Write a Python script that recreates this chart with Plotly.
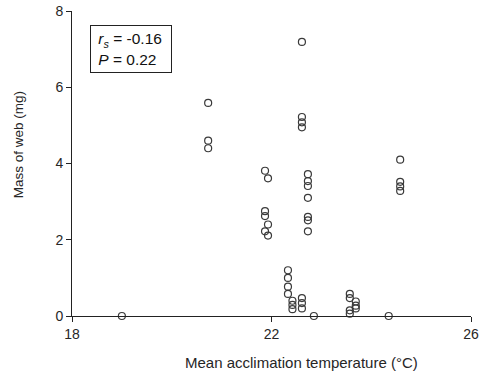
import plotly.graph_objects as go

# Data
temp = [19.0,
        20.73, 20.73, 20.73,
        21.87, 21.93, 21.87, 21.87, 21.93, 21.87, 21.93,
        22.61, 22.61, 22.61, 22.61,
        22.73, 22.73, 22.73, 22.73, 22.73, 22.73, 22.73,
        22.33, 22.33, 22.33, 22.33, 22.42, 22.42, 22.42,
        22.61, 22.61, 22.61,
        22.85,
        23.57, 23.57, 23.57, 23.57,
        23.69, 23.69, 23.69,
        24.35,
        24.58, 24.58, 24.58, 24.58]
mass = [0.0,
        5.59, 4.60, 4.40,
        3.81, 3.61, 2.75, 2.62, 2.40, 2.22, 2.11,
        7.19, 5.22, 5.08, 4.95,
        3.72, 3.54, 3.41, 3.10, 2.60, 2.51, 2.22,
        1.20, 1.00, 0.77, 0.58, 0.40, 0.29, 0.18,
        0.47, 0.34, 0.20,
        0.0,
        0.58, 0.47, 0.15, 0.06,
        0.38, 0.27, 0.20,
        0.0,
        4.10, 3.52, 3.40, 3.28]

x_ticks = [18, 22, 26]
y_ticks = [0, 2, 4, 6, 8]

font = "Arial, Liberation Sans, sans-serif"
txt = "#262626"

fig = go.Figure()
fig.add_trace(go.Scatter(
    x=temp, y=mass, mode="markers",
    marker=dict(symbol="circle-open", size=7, color="#3a3a3a",
                line=dict(width=1.2, color="#3a3a3a")),
    cliponaxis=False, showlegend=False))

fig.update_layout(
    width=482, height=376, autosize=False,
    margin=dict(l=72, r=3, t=6, b=60),
    paper_bgcolor="white", plot_bgcolor="white",
    font=dict(family=font, size=14, color=txt),
    xaxis=dict(range=[18, 26], tickvals=x_ticks, ticks="outside", ticklen=5,
               tickcolor="#222", showline=True, linecolor="#222", linewidth=1,
               showgrid=False, zeroline=False, ticklabeloverflow="allow",
               tickfont=dict(size=14, color=txt)),
    yaxis=dict(range=[0, 8], tickvals=y_ticks, ticks="outside", ticklen=5,
               tickcolor="#222", showline=True, linecolor="#222", linewidth=1,
               showgrid=False, zeroline=False, ticklabeloverflow="allow",
               tickfont=dict(size=14, color=txt)),
    annotations=[
        dict(text="&nbsp;<i>r<sub>s</sub></i> = -0.16<br>&nbsp;<i>P</i> = 0.22",
             xref="x", yref="y", x=18.36, y=7.63, xanchor="left", yanchor="top",
             showarrow=False, align="left", bordercolor="#222", borderwidth=1,
             borderpad=3, width=74, height=40, valign="middle",
             font=dict(size=15.5, color="#111")),
        dict(text="Mean acclimation temperature (°C)", xref="paper", yref="paper",
             x=0.575, y=-0.152, xanchor="center", yanchor="middle",
             showarrow=False, font=dict(size=15, color=txt)),
        dict(text="Mass of web (mg)", textangle=-90, xref="paper", yref="paper",
             x=-0.135, y=0.56, xanchor="center", yanchor="middle",
             showarrow=False, font=dict(size=13.5, color=txt)),
    ])

post = ("document.body.style.margin='0';document.body.style.overflow='hidden';")

fig.write_html(
    "out.html",
    config={"responsive": False, "displayModeBar": False},
    post_script=post)
